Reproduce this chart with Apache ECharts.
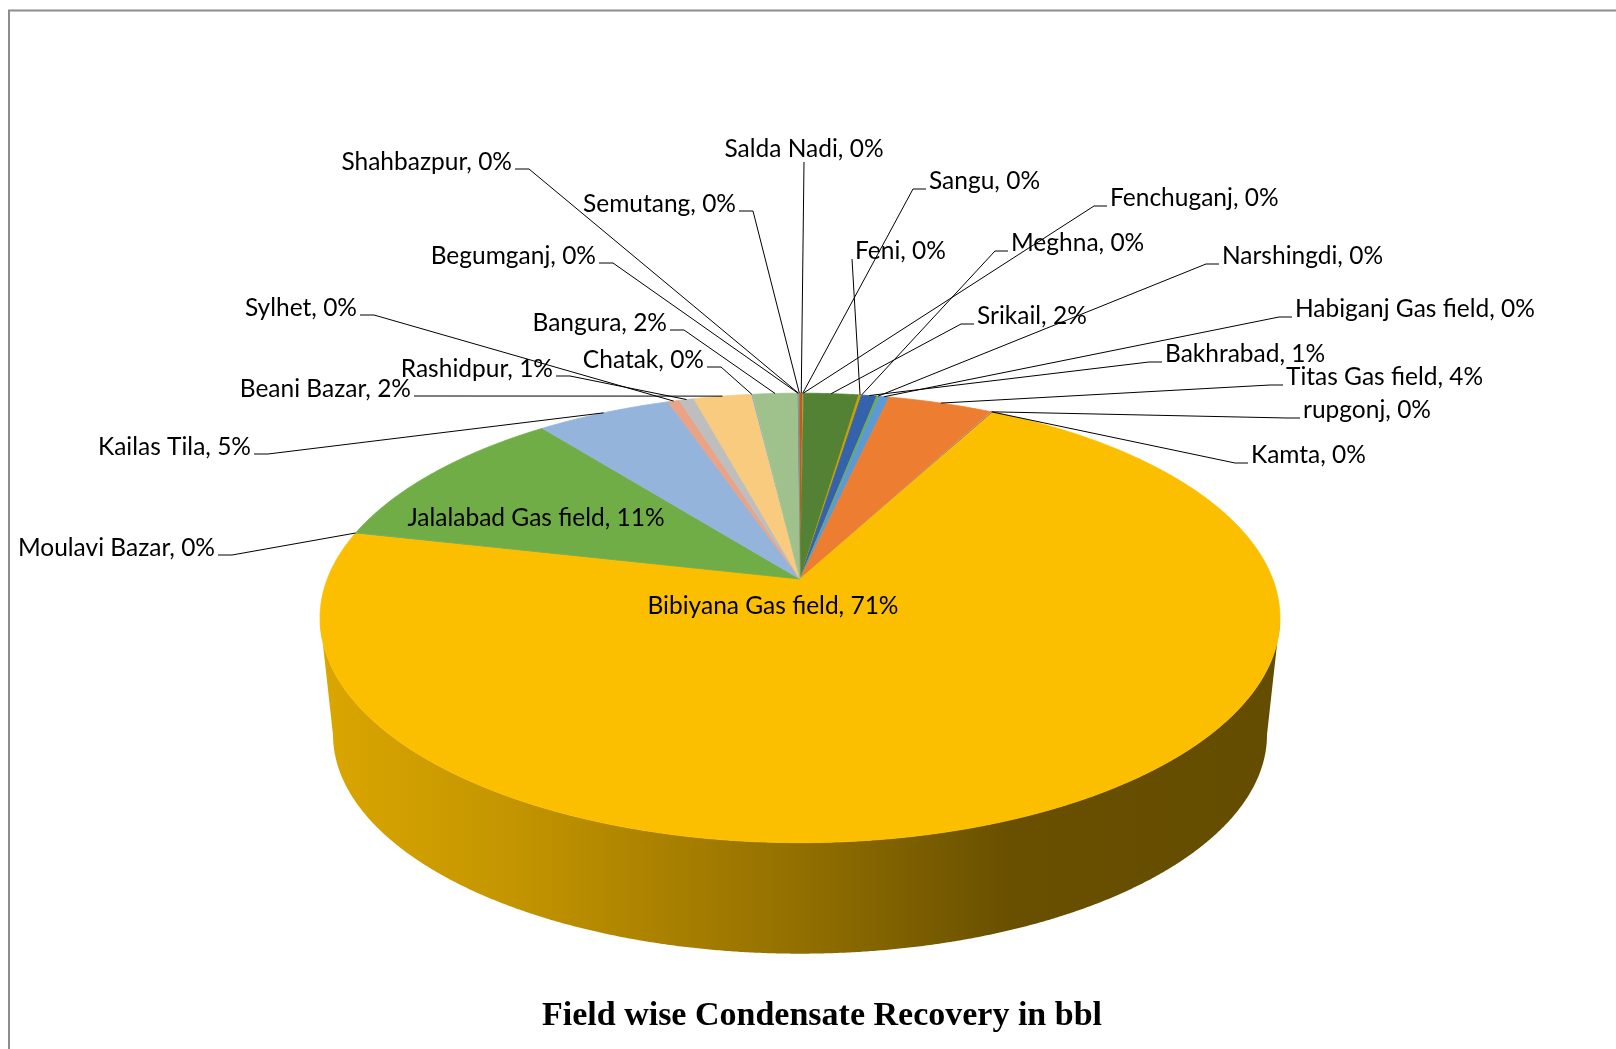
<!DOCTYPE html>
<html><head><meta charset="utf-8">
<script src="https://cdn.jsdelivr.net/npm/echarts@6/dist/echarts.min.js"></script>
<style>html,body{margin:0;padding:0;background:#fff}#c{width:1616px;height:1049px}</style>
</head><body><div id="c"></div>
<script>
// ---- data (clockwise from 12 o'clock) ----
const categories = ['Salda Nadi','Sangu','Fenchuganj','Srikail','Feni','Meghna','Bakhrabad','Narshingdi',
  'Habiganj Gas field','Titas Gas field','rupgonj','Kamta','Bibiyana Gas field','Moulavi Bazar',
  'Jalalabad Gas field','Kailas Tila','Sylhet','Rashidpur','Beani Bazar','Chatak','Bangura',
  'Begumganj','Shahbazpur','Semutang'];
const values = [0.1,0.02,0.02,2.2,0.1,0.02,0.6,0.1,0.4,4.2,0.03,0.05,71.1,0.03,10.9,5.4,0.45,0.6,2.3,0.05,1.8,0.02,0.02,0.05];
const chartTitle = 'Field wise Condensate Recovery in bbl';

// ---- styles / layout ----
const sliceColors = ['#C55A11','#A5A5A5','#FFC000','#548235','#C9A100','#264478','#3462AC','#70AD47',
  '#5B9BD5','#ED7D31','#A5A5A5','#9E480E','#FBBF00','#5B9BD5','#70AD47','#95B4DC','#EBA385',
  '#BEBEBE','#F8CB7E','#7CAFDD','#9FC28C','#335AA1','#D26012','#848484'];
// label anchor [x, y, side]  r: text starts at x, l: text ends at x, c: centred above, i: inside
const labelPlacement = [
  [804,149,'c'],[929,181,'r'],[1110,198,'r'],[977,316,'r'],[855,251,'r'],[1011,243,'r'],
  [1165,354,'r'],[1222,256,'r'],[1295,309,'r'],[1286,377,'r'],[1303,410,'r'],[1251,455,'r'],
  [773,606,'i'],[215,548,'l'],[536,518,'i'],[251,447,'l'],[357,308,'l'],[553,369,'l'],
  [411,389,'l'],[704,360,'l'],[667,323,'l'],[596,256,'l'],[512,162,'l'],[736,204,'l']];

const CX = 800, CY = 579, A = 472.7, B = 218, K = 0.1732, BS = 0.973;
const FONT = '24.5px Lato';

const total = values.reduce((s, v) => s + v, 0);
const startFrac = [];
let acc = 0;
values.forEach(v => { startFrac.push(acc / total); acc += v; });

function proj(t, bottom) {
  const u = Math.sin(t), v = -Math.cos(t), w = 1 - K * v;
  let x = CX + A * u / w, y = CY + B * v / w;
  if (bottom) { x = CX + (x - CX) * BS; y += 118 - 7 * v; }
  return [x, y];
}
const TH_R = Math.acos(-K), TH_L = 2 * Math.PI - Math.acos(-K);
function shade(hex, f) {
  const n = parseInt(hex.slice(1), 16);
  const r = Math.round(((n >> 16) & 255) * f), g = Math.round(((n >> 8) & 255) * f), b = Math.round((n & 255) * f);
  return 'rgb(' + r + ',' + g + ',' + b + ')';
}

function renderItem(params, api) {
  const i = params.dataIndex;
  const val = api.value(0);
  const a0 = startFrac[i] * 2 * Math.PI;
  const a1 = a0 + val / total * 2 * Math.PI;
  const color = sliceColors[i];
  const children = [];
  const step = Math.PI / 720;
  // outer wall (front only)
  const s = Math.max(a0, TH_R), e = Math.min(a1, TH_L);
  if (e > s) {
    const n = Math.max(2, Math.ceil((e - s) / step));
    const pts = [];
    for (let j = 0; j <= n; j++) pts.push(proj(s + (e - s) * j / n, false));
    for (let j = n; j >= 0; j--) pts.push(proj(s + (e - s) * j / n, true));
    const xl = proj(TH_L, false)[0], xr = proj(TH_R, false)[0];
    children.push({
      type: 'polygon', z2: 1, shape: { points: pts },
      style: { fill: new echarts.graphic.LinearGradient(xl, 0, xr, 0, [
        { offset: 0, color: shade(color, 0.87) }, { offset: 0.2, color: shade(color, 0.78) },
        { offset: 0.5, color: shade(color, 0.58) }, { offset: 0.72, color: shade(color, 0.42) },
        { offset: 1, color: shade(color, 0.40) }], true) }
    });
  }
  // top face
  const n2 = Math.max(2, Math.ceil((a1 - a0) / step));
  const top = [[CX, CY]];
  for (let j = 0; j <= n2; j++) top.push(proj(a0 + (a1 - a0) * j / n2, false));
  const thin = val / total < 0.0008;
  children.push({
    type: 'polygon', z2: 2, shape: { points: top },
    style: thin ? { fill: color } : { fill: color, stroke: color, lineWidth: 0.8 }
  });
  // label + leader
  const pct = Math.round(val / total * 100);
  const lp = labelPlacement[i];
  const txt = categories[i] + ', ' + pct + '%';
  const target = proj((a0 + a1) / 2, false);
  let align = 'left';
  if (lp[2] === 'r') {
    align = 'left';
    const ty = lp[1] + 8;
    if (target[0] < lp[0] - 20) {
      children.push({ type: 'polyline', z2: 20, shape: { points: [target, [lp[0] - 16, ty], [lp[0] - 3, ty]] },
        style: { stroke: '#000', lineWidth: 1, fill: null } });
    } else {
      children.push({ type: 'polyline', z2: 20, shape: { points: [target, [lp[0] - 3, ty]] },
        style: { stroke: '#000', lineWidth: 1, fill: null } });
    }
  } else if (lp[2] === 'l') {
    align = 'right';
    const ty = lp[1] + 7;
    children.push({ type: 'polyline', z2: 20, shape: { points: [[lp[0] + 3, ty], [lp[0] + 17, ty], target] },
      style: { stroke: '#000', lineWidth: 1, fill: null } });
  } else if (lp[2] === 'c') {
    align = 'center';
    children.push({ type: 'polyline', z2: 20, shape: { points: [[lp[0], lp[1] + 13], target] },
      style: { stroke: '#000', lineWidth: 1, fill: null } });
  } else {
    align = 'center';
  }
  children.push({ type: 'text', z2: 10, style: { x: lp[0], y: lp[1], text: txt, font: FONT, fill: '#000',
    align: align, verticalAlign: 'middle' } });
  return { type: 'group', children: children };
}

const chart = echarts.init(document.getElementById('c'), null, { renderer: 'canvas' });
chart.setOption({
  backgroundColor: '#fff',
  animation: false,
  graphic: [
    { type: 'polyline', shape: { points: [[9, 1049], [9, 10.5], [1616, 10.5]] }, style: { stroke: '#8c8c8c', lineWidth: 2, fill: null } },
    { type: 'text', x: 822, y: 1016, style: { text: chartTitle, font: 'bold 34px "Liberation Serif"', fill: '#000', align: 'center', verticalAlign: 'middle' } }
  ],
  series: [{
    type: 'custom',
    coordinateSystem: 'none',
    renderItem: renderItem,
    data: values.map((v, i) => ({ name: categories[i], value: [v] }))
  }]
});
</script></body></html>
